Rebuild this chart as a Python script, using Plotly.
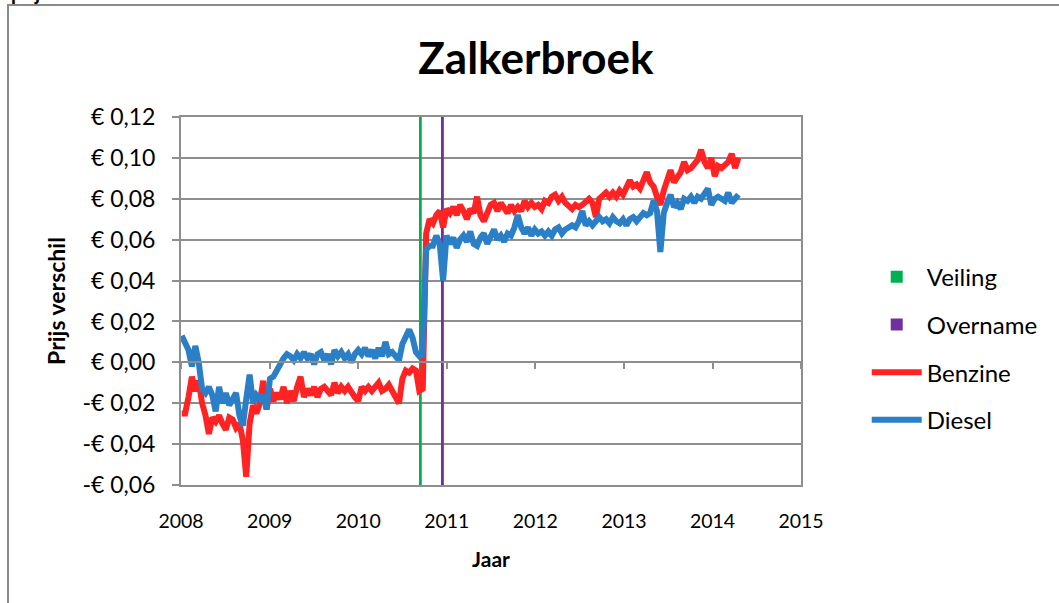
import pandas as pd
import plotly.graph_objects as go

# ── data ─────────────────────────────────────────
datums = pd.date_range('2008-01-04', periods=165, freq='14D')

benzine = [
    -0.025, -0.025, -0.017, -0.007, -0.014, -0.009, -0.020, -0.026, -0.035, -0.027,
    -0.029, -0.026, -0.030, -0.033, -0.027, -0.028, -0.032, -0.030, -0.038, -0.056,
    -0.030, -0.021, -0.025, -0.020, -0.009, -0.023, -0.013, -0.019, -0.015, -0.018,
    -0.012, -0.020, -0.014, -0.019, -0.012, -0.007, -0.017, -0.013, -0.016, -0.012,
    -0.017, -0.013, -0.012, -0.014, -0.016, -0.010, -0.015, -0.012, -0.014, -0.012,
    -0.015, -0.017, -0.019, -0.012, -0.014, -0.012, -0.014, -0.012, -0.010, -0.014,
    -0.013, -0.011, -0.014, -0.017, -0.020, -0.008, -0.004, -0.005, -0.003, -0.004,
    -0.014, -0.013, 0.063, 0.070, 0.068, 0.072, 0.074, 0.066, 0.075, 0.073,
    0.076, 0.072, 0.077, 0.074, 0.070, 0.075, 0.073, 0.081, 0.072, 0.069,
    0.074, 0.077, 0.078, 0.074, 0.078, 0.076, 0.073, 0.077, 0.074, 0.076,
    0.074, 0.079, 0.076, 0.078, 0.076, 0.077, 0.075, 0.079, 0.078, 0.081,
    0.082, 0.079, 0.081, 0.078, 0.076, 0.075, 0.077, 0.076, 0.077, 0.079,
    0.080, 0.078, 0.071, 0.080, 0.082, 0.083, 0.081, 0.083, 0.081, 0.084,
    0.082, 0.085, 0.089, 0.086, 0.087, 0.085, 0.090, 0.093, 0.088, 0.086,
    0.081, 0.077, 0.084, 0.089, 0.094, 0.088, 0.090, 0.093, 0.098, 0.094,
    0.095, 0.097, 0.099, 0.104, 0.098, 0.095, 0.100, 0.091, 0.096, 0.095,
    0.097, 0.098, 0.102, 0.095, 0.100,
]

diesel = [
    0.013, 0.009, 0.006, -0.002, 0.008, 0.000, -0.013, -0.015, -0.012, -0.016,
    -0.024, -0.012, -0.020, -0.015, -0.021, -0.018, -0.015, -0.026, -0.031, -0.018,
    -0.006, -0.020, -0.016, -0.018, -0.016, -0.023, -0.008, -0.007, -0.004, 0.000,
    0.002, 0.004, 0.003, 0.001, 0.004, 0.002, 0.005, 0.002, 0.004, -0.001,
    0.004, 0.005, 0.001, 0.004, -0.001, 0.006, 0.003, 0.005, 0.002, 0.004,
    0.000, 0.004, 0.006, 0.004, 0.007, 0.003, 0.006, 0.002, 0.007, 0.003,
    0.010, 0.004, 0.005, 0.003, 0.001, 0.009, 0.013, 0.016, 0.012, 0.005,
    0.003, 0.004, 0.055, 0.057, 0.057, 0.062, 0.058, 0.040, 0.062, 0.058,
    0.061, 0.056, 0.060, 0.062, 0.059, 0.064, 0.058, 0.057, 0.061, 0.063,
    0.058, 0.061, 0.065, 0.060, 0.062, 0.059, 0.063, 0.062, 0.066, 0.072,
    0.066, 0.063, 0.066, 0.062, 0.065, 0.063, 0.064, 0.062, 0.064, 0.062,
    0.065, 0.066, 0.063, 0.065, 0.066, 0.067, 0.066, 0.069, 0.074, 0.067,
    0.069, 0.067, 0.069, 0.071, 0.069, 0.070, 0.068, 0.071, 0.069, 0.068,
    0.070, 0.067, 0.070, 0.071, 0.069, 0.071, 0.073, 0.072, 0.073, 0.079,
    0.074, 0.054, 0.073, 0.078, 0.082, 0.076, 0.078, 0.075, 0.080, 0.079,
    0.081, 0.078, 0.081, 0.080, 0.082, 0.085, 0.077, 0.080, 0.081, 0.080,
    0.079, 0.083, 0.078, 0.080, 0.082,
]

veiling_datum = ['2010-09-16']
overname_datum = ['2010-12-16']

y_ticks = [-0.06, -0.04, -0.02, 0.00, 0.02, 0.04, 0.06, 0.08, 0.10, 0.12]
y_labels = ['-€ 0,06', '-€ 0,04', '-€ 0,02', '€ 0,00', '€ 0,02',
            '€ 0,04', '€ 0,06', '€ 0,08', '€ 0,10', '€ 0,12']
x_ticks = ['2008-01-01', '2009-01-01', '2010-01-01', '2011-01-01',
           '2012-01-01', '2013-01-01', '2014-01-01', '2015-01-01']
x_labels = ['2008', '2009', '2010', '2011', '2012', '2013', '2014', '2015']

# ── figuur ───────────────────────────────────────
GRID = '#8e8e8e'
FONT = 'Lato, "Open Sans", sans-serif'
Y_MIN, Y_MAX = -0.06, 0.12
DAG_MS = 24 * 3600 * 1000

fig = go.Figure()
fig.add_trace(go.Bar(x=veiling_datum, y=[Y_MAX - Y_MIN], base=Y_MIN, width=8 * DAG_MS,
                     name='Veiling', marker=dict(color='#00b050', line=dict(width=0)),
                     legendgroup='a'))
fig.add_trace(go.Bar(x=overname_datum, y=[Y_MAX - Y_MIN], base=Y_MIN, width=8 * DAG_MS,
                     name='Overname', marker=dict(color='#7030a0', line=dict(width=0)),
                     legendgroup='b'))
fig.add_trace(go.Scatter(x=datums, y=benzine, name='Benzine', mode='lines',
                         line=dict(color='#ff2323', width=6), legendgroup='c'))
fig.add_trace(go.Scatter(x=datums, y=diesel, name='Diesel', mode='lines',
                         line=dict(color='#2a7fc6', width=6), legendgroup='d'))
# lege trace zodat de as op nul (met streepjes) getekend wordt
fig.add_trace(go.Scatter(x=[x_ticks[0]], y=[None], xaxis='x2', showlegend=False,
                         hoverinfo='skip'))

fig.update_layout(
    width=1059, height=603,
    margin=dict(l=181, r=258, t=117, b=118),
    paper_bgcolor='white', plot_bgcolor='white',
    font=dict(family=FONT, size=20, color='black'),
    title=dict(text='<b>Zalkerbroek</b>', font=dict(size=44, color='black'),
               x=0.506, xref='container', xanchor='center',
               y=1 - 59 / 603, yref='container', yanchor='middle'),
    showlegend=True,
    legend=dict(x=1.106, xanchor='left', y=0.626, yanchor='top',
                traceorder='grouped', tracegroupgap=13.5,
                font=dict(size=24), itemwidth=50),
    xaxis=dict(type='date', range=['2008-01-01', '2015-01-01'],
               tickvals=x_ticks, ticktext=x_labels, showgrid=False,
               showline=True, mirror=True, linecolor=GRID, linewidth=2,
               ticks='', ticklabelstandoff=18, automargin=False,
               tickfont=dict(size=19.5),
               title=dict(text='<b>Jaar</b>', standoff=21, font=dict(size=21))),
    xaxis2=dict(type='date', range=['2008-01-01', '2015-01-01'], overlaying='x',
                anchor='free', position=(0 - Y_MIN) / (Y_MAX - Y_MIN),
                tickvals=x_ticks, showticklabels=False, showgrid=False,
                showline=True, linecolor=GRID, linewidth=2,
                ticks='outside', ticklen=6, tickwidth=2, tickcolor=GRID),
    yaxis=dict(range=[Y_MIN, Y_MAX], tickvals=y_ticks, ticktext=y_labels,
               showgrid=True, gridcolor=GRID, gridwidth=2, zeroline=False,
               showline=True, mirror=True, linecolor=GRID, linewidth=2,
               ticks='outside', ticklen=7, tickwidth=2, tickcolor=GRID,
               ticklabelstandoff=12, automargin=False,
               tickfont=dict(size=23),
               title=dict(text='<b>Prijs verschil</b>', standoff=10, font=dict(size=23))),
)

# rand van het grafiekgebied
fig.add_shape(type='rect', xref='paper', yref='paper',
              x0=(8 - 181) / 620, x1=(1100 - 181) / 620,
              y0=(485 - 700) / 368, y1=(485 - 5) / 368,
              line=dict(color='#8a8a8a', width=2), layer='below')
fig.add_annotation(text='<b>prijs</b>', xref='paper', yref='paper',
                   x=(9 - 181) / 620, y=(485 - 6) / 368, xanchor='left', yanchor='bottom',
                   showarrow=False, font=dict(size=20))

# standaard body-marge van de pagina weghalen
fig.write_html('out.html', config={'displayModeBar': False},
               post_script="document.body.style.margin='0';")
